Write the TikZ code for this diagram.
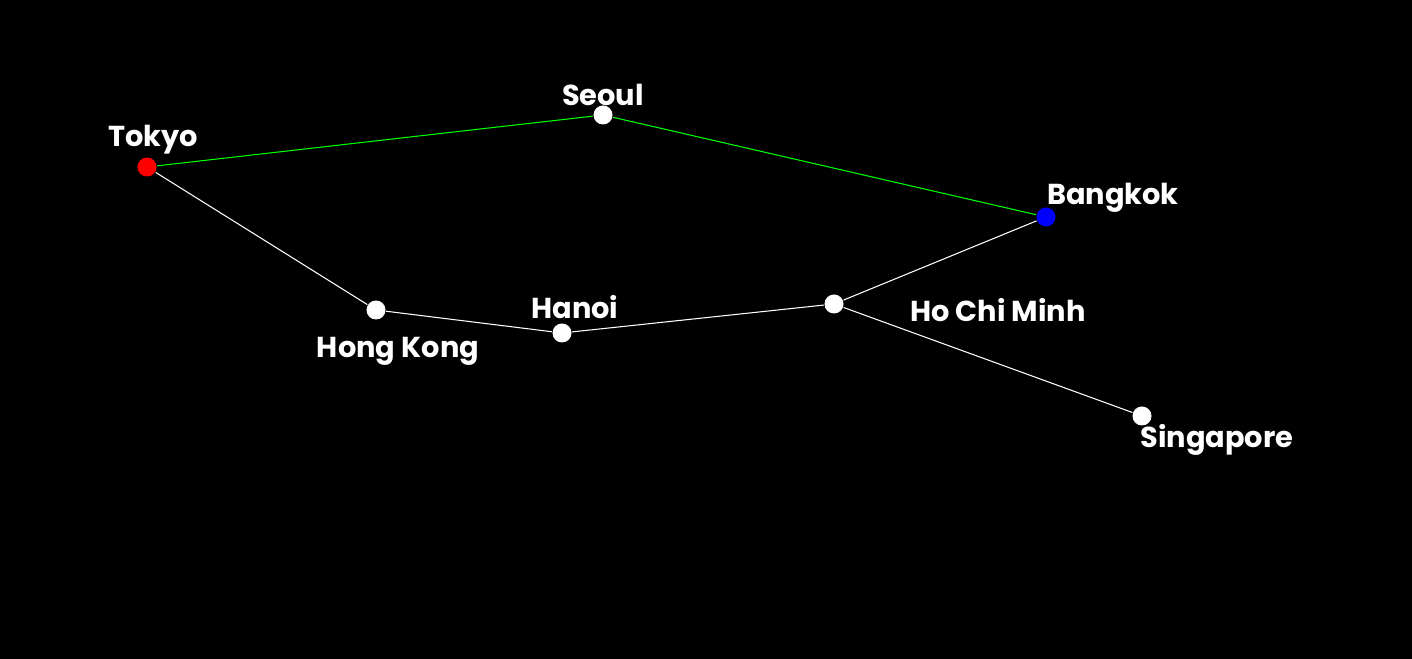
\documentclass[tikz,border=0pt]{standalone}
\usepackage{fontspec}
\setmainfont{Poppins}
\begin{document}
\begin{tikzpicture}[x=0.01cm,y=-0.01cm,
  dot/.style={circle,inner sep=0pt,minimum size=0.19cm,fill=#1},
  lab/.style={text=white,font=\fontsize{8.2pt}{9pt}\selectfont\bfseries,inner sep=0pt},
  edge/.style={draw=#1,line width=0.3pt}]
\fill[black] (0,0) rectangle (1412,659);
\useasboundingbox (0,0) rectangle (1412,659);
\node[dot=red] (tokyo) at (147,167) {};
\node[dot=white] (seoul) at (603,115) {};
\node[dot=blue] (bangkok) at (1046,217) {};
\node[dot=white] (hk) at (376,310) {};
\node[dot=white] (hanoi) at (562,333) {};
\node[dot=white] (hcm) at (834,304) {};
\node[dot=white] (sg) at (1142,416) {};
\node[lab] (ltokyo) at (153,140) {Tokyo};
\node[lab] (lseoul) at (603,95) {Seoul};
\node[lab] (lbangkok) at (1113,198) {Bangkok};
\node[lab] (lhk) at (398,351) {Hong Kong};
\node[lab] (lhanoi) at (575,307) {Hanoi};
\node[lab] (lhcm) at (998,310) {Ho Chi Minh};
\node[lab] (lsg) at (1217,440) {Singapore};
\draw[edge=green] (tokyo) -- (seoul);
\draw[edge=green] (seoul) -- (bangkok);
\draw[edge=white] (tokyo) -- (hk);
\draw[edge=white] (hk) -- (hanoi);
\draw[edge=white] (hanoi) -- (hcm);
\draw[edge=white] (hcm) -- (bangkok);
\draw[edge=white] (hcm) -- (sg);
\end{tikzpicture}
\end{document}
